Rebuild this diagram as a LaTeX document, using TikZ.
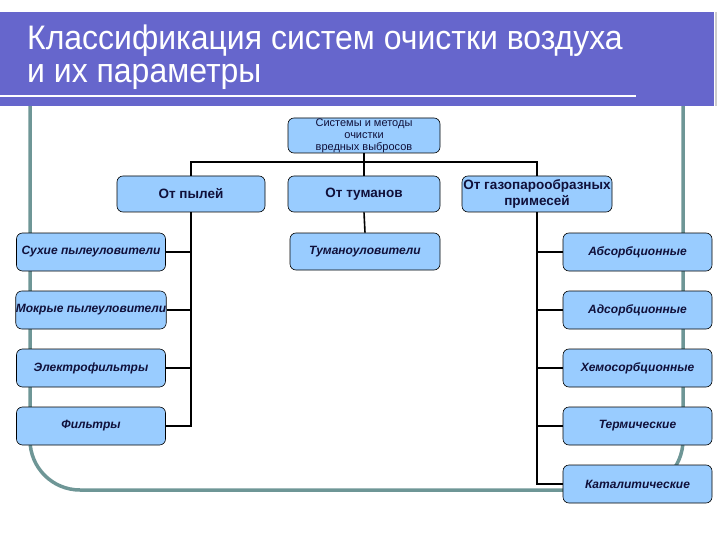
\documentclass[tikz,border=0pt]{standalone}
\usepackage{fontspec}
\setmainfont{Liberation Sans}
\usepackage{xcolor}
\usetikzlibrary{calc}

\definecolor{bandblue}{HTML}{6666CC}
\definecolor{framegray}{HTML}{6E9696}
\definecolor{boxblue}{HTML}{99CCFF}
\definecolor{textnavy}{HTML}{10103A}

\tikzset{
  box/.style={draw=black, line width=0.6pt, fill=boxblue, rounded corners=6pt,
    inner sep=0pt, align=center, text=textnavy},
  rootbox/.style={box, minimum width=152pt, minimum height=35pt, font=\fontsize{11}{12}\selectfont},
  groupbox/.style={box, minimum width=150pt, minimum height=36pt, font=\fontsize{13.5}{16}\selectfont\bfseries},
  leafbox/.style={box, minimum width=149pt, minimum height=38pt, font=\fontsize{12}{14}\selectfont\bfseries\itshape},
  titletext/.style={anchor=base west, text=white, inner sep=0pt, font=\fontsize{34}{33}\selectfont},
  link/.style={draw=black, line width=1.6pt}
}

\begin{document}
\begin{tikzpicture}[x=1pt, y=-1pt]
\useasboundingbox (0,0) rectangle (720,540);

% Frame
\draw[framegray, line width=3.5pt, rounded corners=50pt]
  (30,90) -- (30,490) -- (683,490) -- (683,90);

% Title band
\fill[bandblue] (0,12) rectangle (714,106);
\draw[gray!40, line width=1.5pt] (716,12) -- (716,106);
\draw[white, line width=2pt] (0,96) -- (636,96);
\node[titletext] (title1) at (27,50) {\scalebox{0.94}[1]{Классификация систем очистки воздуха}};
\node[titletext] (title2) at (27,83) {\scalebox{0.94}[1]{и их параметры}};

% Boxes
\node[rootbox] (root) at (364,135.5) {Системы и методы\\очистки\\вредных выбросов};

\node[groupbox, minimum width=148pt] (pyl) at (191,194) {От пылей};
\node[groupbox, minimum width=152pt] (tum) at (364,194) {От туманов};
\node[groupbox] (gaz) at (537,194) {От газопарообразных\\примесей};

\node[leafbox] (l1) at (91,252) {Сухие пылеуловители};
\node[leafbox] (l2) at (91,310) {Мокрые пылеуловители};
\node[leafbox] (l3) at (91,368) {Электрофильтры};
\node[leafbox] (l4) at (91,426) {Фильтры};

\node[leafbox, minimum width=150pt, minimum height=37pt] (m1) at (365,251.5) {Туманоуловители};

\node[leafbox] (r1) at (637.5,252) {Абсорбционные};
\node[leafbox] (r2) at (637.5,310) {Адсорбционные};
\node[leafbox] (r3) at (637.5,368) {Хемосорбционные};
\node[leafbox] (r4) at (637.5,426) {Термические};
\node[leafbox] (r5) at (637.5,484) {Каталитические};

% Connectors
\coordinate (bus) at ($(root.south)+(0,9)$);
\draw[link] (root.south) -- (bus);
\draw[link] (pyl.north) |- (bus) -| (gaz.north);
\draw[link] (bus) -- (tum.north);
\draw[link] (tum.south) -- (m1.north);

\draw[link] (pyl.south) |- (l4.east);
\foreach \n in {l1,l2,l3}
  \draw[link] (\n.east) -- (pyl.south |- \n.east);

\draw[link] (gaz.south) |- (r5.west);
\foreach \n in {r1,r2,r3,r4}
  \draw[link] (\n.west) -- (gaz.south |- \n.west);

\end{tikzpicture}
\end{document}
